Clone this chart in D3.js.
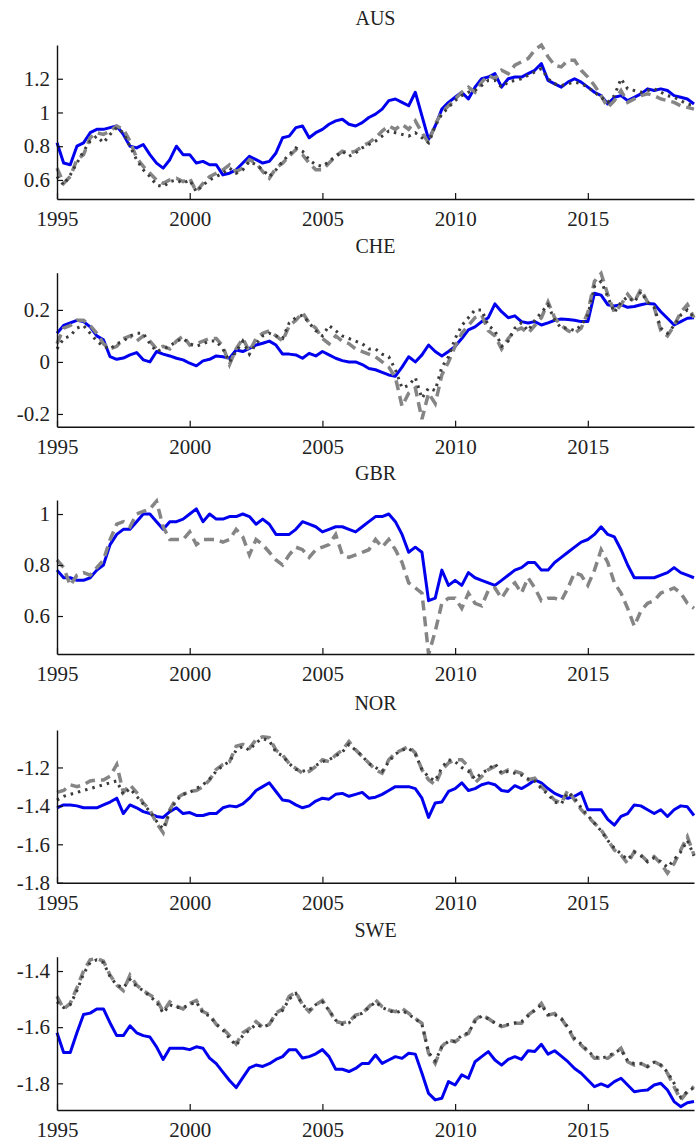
<!DOCTYPE html>
<html>
<head>
<meta charset="utf-8">
<script src="https://cdn.jsdelivr.net/npm/d3@7"></script>
<style>
  body { margin: 0; background: #fff; }
  svg text { font-family: "Liberation Serif", "Times New Roman", serif; fill: #222; }
</style>
</head>
<body>
<svg id="chart" width="698" height="1144"></svg>
<script>
// Quarterly observations, 1995Q1 .. 2019Q1
const startYear = 1995;
const xTickYears = [1995, 2000, 2005, 2010, 2015];

const countries = ["AUS", "CHE", "GBR", "NOR", "SWE"];

const aus_solid = [0.82,0.70,0.69,0.80, 0.82,0.88,0.90,0.90, 0.91,0.92,0.87,0.80, 0.79,0.81,0.75,0.70,
  0.67,0.72,0.80,0.75, 0.75,0.70,0.71,0.69, 0.69,0.63,0.64,0.66, 0.70,0.74,0.72,0.70, 0.71,0.76,0.85,0.86,
  0.91,0.92,0.85,0.88, 0.90,0.93,0.95,0.96, 0.93,0.92,0.94,0.97, 0.99,1.02,1.07,1.08, 1.06,1.04,1.12,0.98,
  0.84,0.92,1.02,1.06, 1.09,1.12,1.08,1.15, 1.20,1.21,1.23,1.15, 1.20,1.21,1.21,1.23, 1.25,1.29,1.19,1.17,
  1.15,1.18,1.20,1.18, 1.15,1.12,1.10,1.05, 1.09,1.10,1.07,1.09, 1.11,1.14,1.13,1.14, 1.13,1.10,1.09,1.08, 1.05];
const aus_dashed = [0.67,0.58,0.62,0.72, 0.75,0.85,0.88,0.87, 0.89,0.92,0.90,0.83, 0.73,0.68,0.64,0.60,
  0.58,0.60,0.61,0.59, 0.61,0.53,0.58,0.62, 0.64,0.66,0.69,0.65, 0.67,0.72,0.70,0.65, 0.61,0.67,0.70,0.74,
  0.78,0.75,0.70,0.66, 0.66,0.70,0.74,0.77, 0.76,0.77,0.80,0.82, 0.85,0.89,0.92,0.90, 0.93,0.90,0.95,0.88,
  0.82,0.93,1.00,1.04, 1.08,1.12,1.15,1.12, 1.18,1.22,1.20,1.25, 1.23,1.28,1.30,1.32, 1.37,1.40,1.33,1.28,
  1.27,1.31,1.31,1.25, 1.21,1.16,1.10,1.03, 1.07,1.13,1.06,1.08, 1.10,1.11,1.10,1.08, 1.07,1.06,1.04,1.03, 1.02];
const aus_dotted = [0.62,0.57,0.63,0.70, 0.77,0.83,0.86,0.82, 0.87,0.91,0.88,0.80, 0.72,0.66,0.62,0.57,
  0.56,0.59,0.60,0.58, 0.60,0.53,0.57,0.60, 0.62,0.64,0.67,0.64, 0.66,0.71,0.69,0.66, 0.62,0.66,0.71,0.75,
  0.79,0.77,0.72,0.69, 0.68,0.71,0.74,0.77, 0.74,0.76,0.79,0.81, 0.83,0.86,0.89,0.88, 0.87,0.86,0.88,0.85,
  0.82,0.92,0.99,1.03, 1.07,1.10,1.12,1.13, 1.16,1.19,1.19,1.15, 1.18,1.19,1.20,1.22, 1.24,1.26,1.20,1.17,
  1.16,1.17,1.18,1.17, 1.15,1.12,1.09,1.06, 1.10,1.20,1.14,1.13, 1.12,1.13,1.14,1.12, 1.10,1.09,1.07,1.05, 1.04];

const che_solid = [0.11,0.14,0.15,0.16, 0.155,0.135,0.10,0.085, 0.02,0.01,0.015,0.027, 0.036,0.008,0.0,0.04,
  0.03,0.023,0.014,0.008, -0.005,-0.015,0.004,0.01, 0.023,0.02,0.014,0.046, 0.04,0.052,0.065,0.072,
  0.08,0.065,0.03,0.03, 0.027,0.014,0.033,0.023, 0.04,0.027,0.014,0.005, 0.0,0.0,-0.01,-0.025,
  -0.03,-0.04,-0.05,-0.055, -0.02,0.02,0.0,0.027, 0.065,0.04,0.023,0.04, 0.06,0.09,0.123,0.135,
  0.155,0.17,0.223,0.193, 0.17,0.177,0.155,0.15, 0.155,0.142,0.15,0.16, 0.165,0.163,0.16,0.155,
  0.155,0.264,0.257,0.22, 0.215,0.22,0.21,0.213, 0.22,0.225,0.223,0.193, 0.168,0.142,0.155,0.168, 0.17];
const che_dashed = [0.07,0.13,0.14,0.16, 0.16,0.14,0.11,0.07, 0.05,0.06,0.09,0.10, 0.08,0.10,0.08,0.05,
  0.06,0.05,0.08,0.10, 0.065,0.07,0.08,0.09, 0.09,0.06,-0.01,0.05, 0.09,0.04,0.09,0.11,
  0.12,0.10,0.08,0.14, 0.16,0.19,0.15,0.13, 0.09,0.07,0.10,0.08, 0.07,0.05,0.04,0.03,
  0.02,0.0,-0.02,-0.06, -0.17,-0.12,-0.10,-0.22, -0.12,-0.16,-0.05,0.0, 0.06,0.11,0.14,0.17,
  0.18,0.12,0.10,0.05, 0.09,0.12,0.13,0.11, 0.14,0.17,0.23,0.17, 0.14,0.12,0.11,0.13,
  0.19,0.31,0.34,0.26, 0.19,0.22,0.26,0.23, 0.28,0.23,0.21,0.12, 0.10,0.14,0.19,0.22, 0.17];
const che_dotted = [0.05,0.09,0.10,0.13, 0.14,0.11,0.08,0.06, 0.05,0.07,0.08,0.10, 0.11,0.11,0.07,0.04,
  0.05,0.06,0.08,0.09, 0.07,0.06,0.07,0.08, 0.08,0.05,0.0,0.04, 0.08,0.03,0.07,0.10,
  0.11,0.10,0.09,0.15, 0.17,0.18,0.15,0.12, 0.10,0.14,0.12,0.10, 0.09,0.08,0.07,0.05,
  0.05,0.03,0.02,-0.03, -0.10,-0.09,-0.06,-0.14, -0.10,-0.11,-0.02,0.02, 0.09,0.14,0.17,0.20,
  0.20,0.14,0.12,0.06, 0.08,0.13,0.15,0.12, 0.16,0.19,0.22,0.16, 0.13,0.13,0.12,0.14,
  0.18,0.29,0.31,0.25, 0.19,0.23,0.25,0.23, 0.27,0.23,0.21,0.13, 0.11,0.14,0.18,0.20, 0.17];

const gbr_solid = [0.78,0.75,0.75,0.74, 0.74,0.75,0.78,0.80, 0.88,0.92,0.94,0.94, 0.97,1.00,1.00,0.97,
  0.94,0.97,0.97,0.98, 1.00,1.02,0.97,1.00, 0.98,0.98,0.99,0.99, 1.00,0.99,0.96,0.98,
  0.96,0.92,0.92,0.92, 0.94,0.97,0.96,0.95, 0.93,0.94,0.95,0.95, 0.94,0.93,0.95,0.97,
  0.99,0.99,1.00,0.97, 0.92,0.85,0.87,0.85, 0.66,0.67,0.78,0.72, 0.74,0.72,0.77,0.75,
  0.74,0.73,0.72,0.74, 0.76,0.78,0.79,0.81, 0.81,0.78,0.78,0.81, 0.83,0.85,0.87,0.89,
  0.90,0.92,0.95,0.92, 0.91,0.86,0.80,0.75, 0.75,0.75,0.75,0.76, 0.77,0.79,0.77,0.76, 0.75];
const gbr_dashed = [0.82,0.79,0.72,0.76, 0.77,0.76,0.79,0.82, 0.90,0.96,0.97,0.95, 1.00,1.01,1.02,1.05,
  0.95,0.90,0.90,0.90, 0.93,0.88,0.90,0.90, 0.90,0.89,0.90,0.94, 0.91,0.84,0.90,0.88,
  0.85,0.82,0.80,0.84, 0.87,0.86,0.83,0.86, 0.87,0.88,0.92,0.84, 0.83,0.84,0.85,0.86,
  0.90,0.87,0.90,0.86, 0.81,0.73,0.71,0.69, 0.45,0.54,0.65,0.67, 0.67,0.63,0.69,0.65,
  0.64,0.70,0.71,0.67, 0.71,0.73,0.69,0.75, 0.71,0.66,0.67,0.67, 0.66,0.71,0.77,0.76,
  0.72,0.78,0.86,0.81, 0.73,0.69,0.63,0.56, 0.62,0.65,0.66,0.69, 0.70,0.71,0.69,0.65, 0.63];
const gbr_dotted = null;

const nor_solid = [-1.41,-1.395,-1.395,-1.40, -1.41,-1.41,-1.41,-1.395, -1.38,-1.36,-1.44,-1.395,
  -1.41,-1.43,-1.44,-1.455, -1.46,-1.43,-1.41,-1.44, -1.435,-1.45,-1.45,-1.44, -1.44,-1.41,-1.40,-1.405,
  -1.39,-1.36,-1.32,-1.30, -1.28,-1.325,-1.37,-1.375, -1.395,-1.41,-1.40,-1.375, -1.36,-1.365,-1.34,-1.335,
  -1.35,-1.34,-1.33,-1.36, -1.355,-1.34,-1.32,-1.30, -1.30,-1.30,-1.31,-1.36, -1.46,-1.385,-1.38,-1.325,
  -1.31,-1.28,-1.32,-1.31, -1.29,-1.28,-1.29,-1.32, -1.325,-1.295,-1.31,-1.29, -1.265,-1.28,-1.31,-1.335,
  -1.35,-1.36,-1.35,-1.33, -1.42,-1.42,-1.42,-1.47, -1.50,-1.455,-1.44,-1.395, -1.40,-1.42,-1.44,-1.42,
  -1.455,-1.42,-1.40,-1.405, -1.45];
const nor_dashed = [-1.33,-1.32,-1.29,-1.30, -1.29,-1.27,-1.265,-1.265, -1.245,-1.185,-1.33,-1.29,
  -1.33,-1.385,-1.42,-1.49, -1.54,-1.42,-1.36,-1.34, -1.325,-1.32,-1.30,-1.265, -1.21,-1.185,-1.17,-1.09,
  -1.08,-1.10,-1.055,-1.04, -1.045,-1.11,-1.135,-1.18, -1.205,-1.23,-1.22,-1.195, -1.16,-1.17,-1.135,-1.11,
  -1.065,-1.108,-1.143,-1.177, -1.212,-1.23,-1.16,-1.125, -1.108,-1.09,-1.125,-1.212, -1.264,-1.29,-1.212,-1.177,
  -1.16,-1.16,-1.195,-1.28, -1.247,-1.212,-1.195,-1.23, -1.212,-1.22,-1.23,-1.264, -1.256,-1.30,-1.334,-1.37,
  -1.386,-1.317,-1.37,-1.42, -1.456,-1.49,-1.525,-1.577, -1.63,-1.656,-1.70,-1.638, -1.656,-1.69,-1.664,-1.70,
  -1.75,-1.70,-1.63,-1.56, -1.656];
const nor_dotted = [-1.37,-1.35,-1.34,-1.33, -1.32,-1.31,-1.30,-1.29, -1.28,-1.27,-1.34,-1.31,
  -1.35,-1.39,-1.43,-1.48, -1.52,-1.43,-1.37,-1.34, -1.33,-1.31,-1.29,-1.26, -1.22,-1.19,-1.17,-1.11,
  -1.09,-1.11,-1.07,-1.05, -1.06,-1.12,-1.14,-1.18, -1.21,-1.22,-1.21,-1.19, -1.17,-1.16,-1.14,-1.12,
  -1.08,-1.11,-1.14,-1.18, -1.20,-1.22,-1.17,-1.13, -1.11,-1.10,-1.13,-1.21, -1.25,-1.27,-1.20,-1.16,
  -1.17,-1.20,-1.22,-1.26, -1.23,-1.21,-1.18,-1.23, -1.22,-1.23,-1.24,-1.26, -1.27,-1.31,-1.34,-1.38,
  -1.39,-1.33,-1.36,-1.41, -1.45,-1.49,-1.53,-1.58, -1.62,-1.65,-1.68,-1.64, -1.66,-1.69,-1.67,-1.69,
  -1.72,-1.68,-1.64,-1.58, -1.66];

const swe_solid = [-1.62,-1.69,-1.69,-1.62, -1.555,-1.55,-1.535,-1.535, -1.585,-1.63,-1.63,-1.595,
  -1.62,-1.63,-1.635,-1.67, -1.715,-1.675,-1.675,-1.675, -1.68,-1.67,-1.675,-1.71, -1.73,-1.76,-1.79,-1.815,
  -1.78,-1.745,-1.735,-1.74, -1.73,-1.715,-1.705,-1.68, -1.68,-1.71,-1.705,-1.695, -1.68,-1.705,-1.75,-1.75,
  -1.758,-1.747,-1.729,-1.729, -1.699,-1.729,-1.717,-1.705, -1.711,-1.693,-1.696,-1.764, -1.836,-1.859,-1.853,-1.794,
  -1.806,-1.770,-1.782,-1.723, -1.705,-1.687,-1.717,-1.735, -1.715,-1.705,-1.715,-1.684, -1.687,-1.661,-1.696,-1.684,
  -1.703,-1.723,-1.747,-1.764, -1.788,-1.812,-1.802,-1.812, -1.794,-1.782,-1.806,-1.830, -1.826,-1.824,-1.806,-1.800,
  -1.824,-1.865,-1.883,-1.869, -1.865];
const swe_dashed = [-1.49,-1.535,-1.515,-1.46, -1.40,-1.36,-1.355,-1.365, -1.415,-1.45,-1.47,-1.415,
  -1.45,-1.47,-1.485,-1.50, -1.545,-1.51,-1.525,-1.535, -1.515,-1.505,-1.545,-1.555, -1.59,-1.605,-1.63,-1.66,
  -1.62,-1.605,-1.58,-1.60, -1.59,-1.55,-1.535,-1.49, -1.475,-1.52,-1.545,-1.52, -1.505,-1.54,-1.58,-1.585,
  -1.58,-1.557,-1.551,-1.527, -1.503,-1.527,-1.539,-1.545, -1.533,-1.551,-1.569,-1.586, -1.693,-1.729,-1.669,-1.646,
  -1.652,-1.634,-1.622,-1.574, -1.557,-1.569,-1.586,-1.598, -1.592,-1.586,-1.586,-1.557, -1.539,-1.515,-1.557,-1.551,
  -1.569,-1.604,-1.646,-1.664, -1.687,-1.711,-1.711,-1.711, -1.693,-1.675,-1.723,-1.735, -1.729,-1.741,-1.723,-1.735,
  -1.764,-1.812,-1.859,-1.830, -1.812];
const swe_dotted = [-1.51,-1.53,-1.52,-1.47, -1.41,-1.37,-1.36,-1.37, -1.42,-1.45,-1.46,-1.43,
  -1.455,-1.47,-1.49,-1.51, -1.55,-1.52,-1.53,-1.53, -1.52,-1.51,-1.55,-1.56, -1.59,-1.61,-1.64,-1.665,
  -1.63,-1.61,-1.59,-1.60, -1.59,-1.555,-1.54,-1.50, -1.48,-1.52,-1.54,-1.52, -1.51,-1.54,-1.575,-1.59,
  -1.585,-1.56,-1.55,-1.53, -1.51,-1.53,-1.54,-1.55, -1.54,-1.555,-1.57,-1.59, -1.69,-1.72,-1.67,-1.65,
  -1.65,-1.63,-1.62,-1.58, -1.56,-1.57,-1.585,-1.595, -1.59,-1.585,-1.58,-1.56, -1.54,-1.52,-1.555,-1.555,
  -1.57,-1.60,-1.64,-1.66, -1.685,-1.705,-1.71,-1.705, -1.69,-1.68,-1.72,-1.73, -1.73,-1.74,-1.725,-1.735,
  -1.76,-1.80,-1.85,-1.83, -1.815];

// y-axis tick labels per panel
const aus_ticks = [0.6, 0.8, 1, 1.2];
const che_ticks = [-0.2, 0, 0.2];
const gbr_ticks = [0.6, 0.8, 1];
const nor_ticks = [-1.8, -1.6, -1.4, -1.2];
const swe_ticks = [-1.8, -1.6, -1.4];

const panelData = {
  AUS: { solid: aus_solid, dashed: aus_dashed, dotted: aus_dotted, ticks: aus_ticks },
  CHE: { solid: che_solid, dashed: che_dashed, dotted: che_dotted, ticks: che_ticks },
  GBR: { solid: gbr_solid, dashed: gbr_dashed, dotted: gbr_dotted, ticks: gbr_ticks },
  NOR: { solid: nor_solid, dashed: nor_dashed, dotted: nor_dotted, ticks: nor_ticks },
  SWE: { solid: swe_solid, dashed: swe_dashed, dotted: swe_dotted, ticks: swe_ticks }
};

// ---- layout ----
const plotLeft = 57, plotRight = 694;
const layout = {
  AUS: { top: 45,    bottom: 199,   domain: [0.487, 1.40] },
  CHE: { top: 272.7, bottom: 426.7, domain: [-0.249, 0.343] },
  GBR: { top: 500,   bottom: 654,   domain: [0.451, 1.055] },
  NOR: { top: 730,   bottom: 882.7, domain: [-1.80, -1.005] },
  SWE: { top: 956.7, bottom: 1110,  domain: [-1.895, -1.349] }
};

const svg = d3.select("#chart");
const x = d3.scaleLinear().domain([1995, 2019]).range([plotLeft, plotRight]);
const tickFmt = d => String(d);

countries.forEach(name => {
  const d = panelData[name];
  const L = layout[name];
  const y = d3.scaleLinear().domain(L.domain).range([L.bottom, L.top]);
  const g = svg.append("g");

  // title
  g.append("text")
    .attr("x", (plotLeft + plotRight) / 2)
    .attr("y", L.top - 20)
    .attr("text-anchor", "middle")
    .style("font-size", "20px")
    .text(name);

  const line = d3.line()
    .x((v, i) => x(startYear + i / 4))
    .y(v => y(v));

  g.append("path").datum(d.solid)
    .attr("d", line).attr("fill", "none")
    .attr("stroke", "#0000ee").attr("stroke-width", 3)
    .attr("stroke-linejoin", "round");

  g.append("path").datum(d.dashed)
    .attr("d", line).attr("fill", "none")
    .attr("stroke", "#858585").attr("stroke-width", 3.5)
    .attr("stroke-dasharray", "10,6");

  if (d.dotted) {
    g.append("path").datum(d.dotted)
      .attr("d", line).attr("fill", "none")
      .attr("stroke", "#3c3c3c").attr("stroke-width", 3)
      .attr("stroke-dasharray", "2.5,5");
  }

  // axes
  const yAxis = d3.axisLeft(y).tickValues(d.ticks).tickFormat(tickFmt)
    .tickSizeInner(-6).tickSizeOuter(0).tickPadding(7);
  const yg = g.append("g").attr("transform", `translate(${plotLeft},0)`).call(yAxis);

  const xAxis = d3.axisBottom(x).tickValues(xTickYears).tickFormat(tickFmt)
    .tickSizeInner(-6).tickSizeOuter(0).tickPadding(12);
  const xg = g.append("g").attr("transform", `translate(0,${L.bottom})`).call(xAxis);

  [yg, xg].forEach(ax => {
    ax.select(".domain").attr("stroke", "#111").attr("stroke-width", 1.4);
    ax.selectAll(".tick line").attr("stroke", "#111").attr("stroke-width", 1.2);
    ax.selectAll(".tick text").style("font-size", "21px").attr("fill", "#222")
      .style("font-family", "'Liberation Serif','Times New Roman',serif");
  });
});
</script>
</body>
</html>
